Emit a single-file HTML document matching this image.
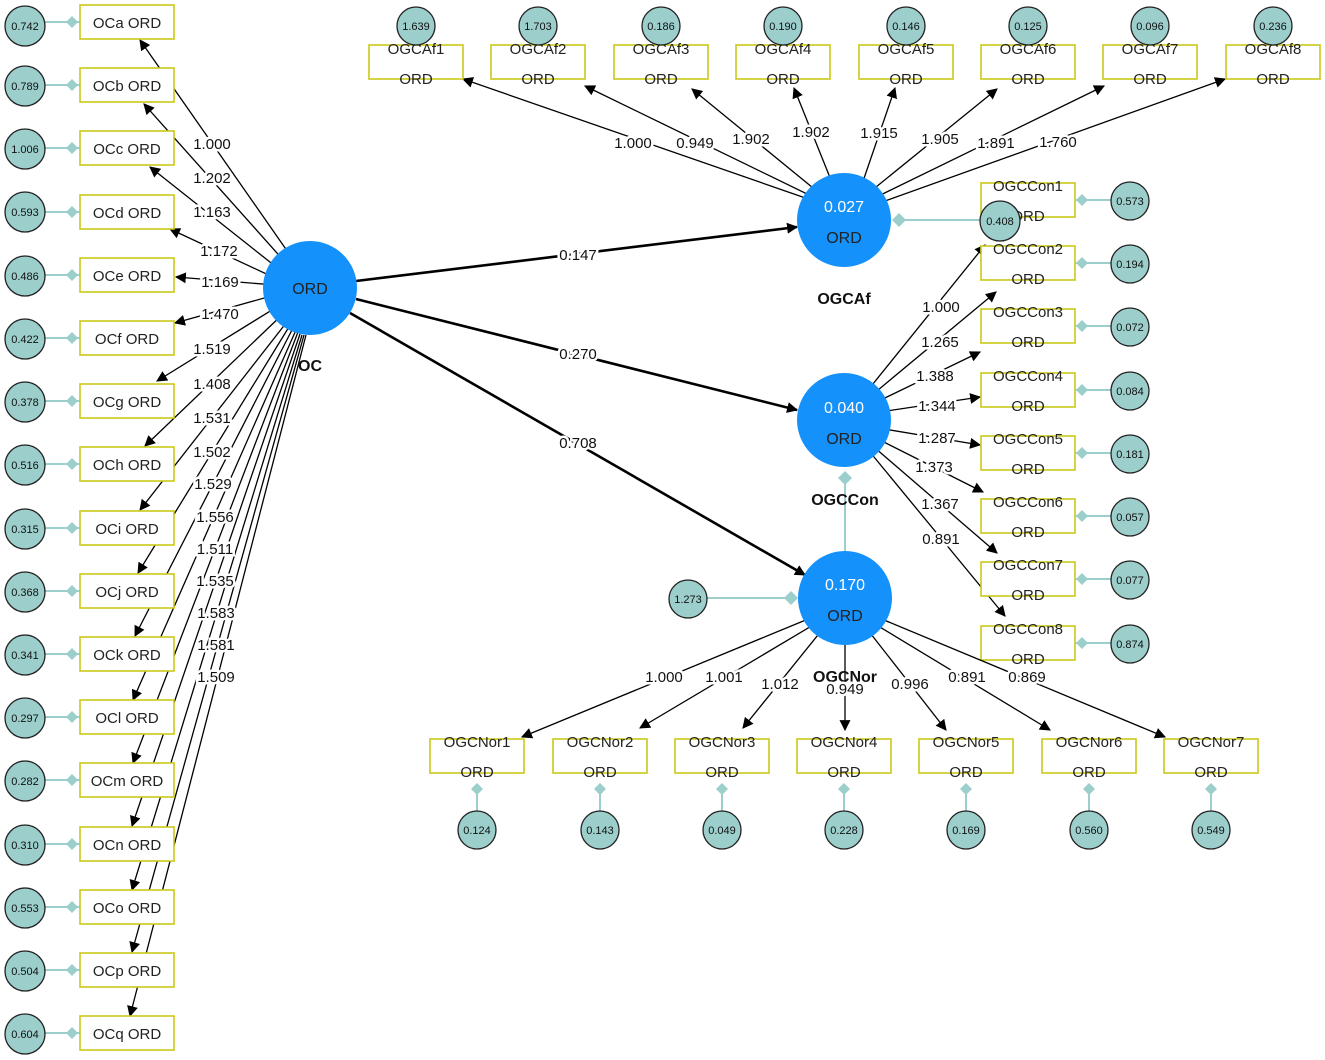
<!DOCTYPE html>
<html><head><meta charset="utf-8"><style>
html,body{margin:0;padding:0;background:#fff;}
svg{display:block;font-family:"Liberation Sans",sans-serif;}
.l{stroke:#000;stroke-width:1.3;fill:none;marker-end:url(#a);}
.t{stroke:#000;stroke-width:2.6;fill:none;marker-end:url(#a);}
.lb{font-size:15px;fill:#111;text-anchor:middle;stroke:#fff;stroke-width:5;paint-order:stroke;}
.bx{fill:#fff;stroke:#c9c918;stroke-width:1.6;}
.bt{font-size:15px;fill:#222;text-anchor:middle;}
.ec{fill:#9ccfcc;stroke:#222;stroke-width:1.3;}
.et{font-size:11px;fill:#111;text-anchor:middle;}
.tl{stroke:#9ccfcc;stroke-width:2;}
.dm{fill:#9ccfcc;}
.bc{fill:#1591fb;}
.ct{font-size:16px;text-anchor:middle;}
.nm{font-size:16px;font-weight:bold;text-anchor:middle;fill:#111;}
</style></head><body>
<svg width="1325" height="1060" viewBox="0 0 1325 1060" xmlns="http://www.w3.org/2000/svg">
<defs>
<marker id="a" viewBox="0 0 10 10" refX="9" refY="5" markerWidth="11" markerHeight="11" markerUnits="userSpaceOnUse" orient="auto"><path d="M0,0 L10,5 L0,10 z" fill="#000"/></marker>
<marker id="d" viewBox="0 0 10 10" refX="5" refY="5" markerWidth="10" markerHeight="10" markerUnits="userSpaceOnUse"><path d="M5,0 L10,5 L5,10 L0,5z" fill="#9ccfcc"/></marker>
</defs>

<!-- OC loadings -->
<g>
<line class="l" x1="290" y1="255" x2="140" y2="40"/>
<line class="l" x1="285" y1="262" x2="144" y2="104"/>
<line class="l" x1="280" y1="270" x2="150" y2="167"/>
<line class="l" x1="275" y1="278" x2="170" y2="229"/>
<line class="l" x1="275" y1="285" x2="176" y2="277"/>
<line class="l" x1="275" y1="295" x2="175" y2="323"/>
<line class="l" x1="280" y1="305" x2="157" y2="381"/>
<line class="l" x1="285" y1="312" x2="145" y2="446"/>
<line class="l" x1="290" y1="318" x2="140" y2="510"/>
<line class="l" x1="292" y1="322" x2="138" y2="573"/>
<line class="l" x1="294" y1="326" x2="135" y2="636"/>
<line class="l" x1="296" y1="330" x2="133" y2="700"/>
<line class="l" x1="298" y1="332" x2="133" y2="763"/>
<line class="l" x1="300" y1="334" x2="132" y2="826"/>
<line class="l" x1="302" y1="335" x2="132" y2="890"/>
<line class="l" x1="304" y1="335" x2="132" y2="952"/>
<line class="l" x1="306" y1="335" x2="130" y2="1016"/>
</g>
<g class="lb">
<text x="212" y="149">1.000</text><text x="212" y="183">1.202</text><text x="212" y="217">1.163</text>
<text x="219" y="256">1.172</text><text x="220" y="287">1.169</text><text x="220" y="319">1.470</text>
<text x="212" y="354">1.519</text><text x="212" y="389">1.408</text><text x="212" y="423">1.531</text>
<text x="212" y="457">1.502</text><text x="213" y="489">1.529</text><text x="215" y="522">1.556</text>
<text x="215" y="554">1.511</text><text x="215" y="586">1.535</text><text x="216" y="618">1.583</text>
<text x="216" y="650">1.581</text><text x="216" y="682">1.509</text>
</g>

<!-- Left indicators -->
<g>
<line class="tl" x1="45" y1="22" x2="80" y2="22"/><line class="tl" x1="45" y1="85" x2="80" y2="85"/>
<line class="tl" x1="45" y1="148" x2="80" y2="148"/><line class="tl" x1="45" y1="212" x2="80" y2="212"/>
<line class="tl" x1="45" y1="275" x2="80" y2="275"/><line class="tl" x1="45" y1="338" x2="80" y2="338"/>
<line class="tl" x1="45" y1="401" x2="80" y2="401"/><line class="tl" x1="45" y1="464" x2="80" y2="464"/>
<line class="tl" x1="45" y1="528" x2="80" y2="528"/><line class="tl" x1="45" y1="591" x2="80" y2="591"/>
<line class="tl" x1="45" y1="654" x2="80" y2="654"/><line class="tl" x1="45" y1="717" x2="80" y2="717"/>
<line class="tl" x1="45" y1="780" x2="80" y2="780"/><line class="tl" x1="45" y1="844" x2="80" y2="844"/>
<line class="tl" x1="45" y1="907" x2="80" y2="907"/><line class="tl" x1="45" y1="970" x2="80" y2="970"/>
<line class="tl" x1="45" y1="1033" x2="80" y2="1033"/>
</g>
<g class="dm">
<path d="M72,16 L78,22 L72,28 L66,22z"/><path d="M72,79 L78,85 L72,91 L66,85z"/><path d="M72,142 L78,148 L72,154 L66,148z"/>
<path d="M72,206 L78,212 L72,218 L66,212z"/><path d="M72,269 L78,275 L72,281 L66,275z"/><path d="M72,332 L78,338 L72,344 L66,338z"/>
<path d="M72,395 L78,401 L72,407 L66,401z"/><path d="M72,458 L78,464 L72,470 L66,464z"/><path d="M72,522 L78,528 L72,534 L66,528z"/>
<path d="M72,585 L78,591 L72,597 L66,591z"/><path d="M72,648 L78,654 L72,660 L66,654z"/><path d="M72,711 L78,717 L72,723 L66,717z"/>
<path d="M72,774 L78,780 L72,786 L66,780z"/><path d="M72,838 L78,844 L72,850 L66,844z"/><path d="M72,901 L78,907 L72,913 L66,907z"/>
<path d="M72,964 L78,970 L72,976 L66,970z"/><path d="M72,1027 L78,1033 L72,1039 L66,1033z"/>
</g>
<g>
<circle class="ec" cx="25" cy="26" r="20"/><circle class="ec" cx="25" cy="86" r="20"/><circle class="ec" cx="25" cy="149" r="20"/>
<circle class="ec" cx="25" cy="212" r="20"/><circle class="ec" cx="25" cy="276" r="20"/><circle class="ec" cx="25" cy="339" r="20"/>
<circle class="ec" cx="25" cy="402" r="20"/><circle class="ec" cx="25" cy="465" r="20"/><circle class="ec" cx="25" cy="529" r="20"/>
<circle class="ec" cx="25" cy="592" r="20"/><circle class="ec" cx="25" cy="655" r="20"/><circle class="ec" cx="25" cy="718" r="20"/>
<circle class="ec" cx="25" cy="781" r="20"/><circle class="ec" cx="25" cy="845" r="20"/><circle class="ec" cx="25" cy="908" r="20"/>
<circle class="ec" cx="25" cy="971" r="20"/><circle class="ec" cx="25" cy="1034" r="20"/>
</g>
<g class="et">
<text x="25" y="30">0.742</text><text x="25" y="90">0.789</text><text x="25" y="153">1.006</text>
<text x="25" y="216">0.593</text><text x="25" y="280">0.486</text><text x="25" y="343">0.422</text>
<text x="25" y="406">0.378</text><text x="25" y="469">0.516</text><text x="25" y="533">0.315</text>
<text x="25" y="596">0.368</text><text x="25" y="659">0.341</text><text x="25" y="722">0.297</text>
<text x="25" y="785">0.282</text><text x="25" y="849">0.310</text><text x="25" y="912">0.553</text>
<text x="25" y="975">0.504</text><text x="25" y="1038">0.604</text>
</g>
<g>
<rect class="bx" x="80" y="5" width="94" height="34"/><rect class="bx" x="80" y="68" width="94" height="34"/>
<rect class="bx" x="80" y="131" width="94" height="34"/><rect class="bx" x="80" y="195" width="94" height="34"/>
<rect class="bx" x="80" y="258" width="94" height="34"/><rect class="bx" x="80" y="321" width="94" height="34"/>
<rect class="bx" x="80" y="384" width="94" height="34"/><rect class="bx" x="80" y="447" width="94" height="34"/>
<rect class="bx" x="80" y="511" width="94" height="34"/><rect class="bx" x="80" y="574" width="94" height="34"/>
<rect class="bx" x="80" y="637" width="94" height="34"/><rect class="bx" x="80" y="700" width="94" height="34"/>
<rect class="bx" x="80" y="763" width="94" height="34"/><rect class="bx" x="80" y="827" width="94" height="34"/>
<rect class="bx" x="80" y="890" width="94" height="34"/><rect class="bx" x="80" y="953" width="94" height="34"/>
<rect class="bx" x="80" y="1016" width="94" height="34"/>
</g>
<g class="bt">
<text x="127" y="28">OCa  ORD</text><text x="127" y="91">OCb  ORD</text><text x="127" y="154">OCc  ORD</text>
<text x="127" y="218">OCd  ORD</text><text x="127" y="281">OCe  ORD</text><text x="127" y="344">OCf  ORD</text>
<text x="127" y="407">OCg  ORD</text><text x="127" y="470">OCh  ORD</text><text x="127" y="534">OCi  ORD</text>
<text x="127" y="597">OCj  ORD</text><text x="127" y="660">OCk  ORD</text><text x="127" y="723">OCl  ORD</text>
<text x="127" y="786">OCm  ORD</text><text x="127" y="850">OCn  ORD</text><text x="127" y="913">OCo  ORD</text>
<text x="127" y="976">OCp  ORD</text><text x="127" y="1039">OCq  ORD</text>
</g>

<!-- structural paths -->
<line class="t" x1="356" y1="281" x2="797" y2="227"/>
<line class="t" x1="356" y1="299" x2="797" y2="410"/>
<line class="t" x1="350" y1="313" x2="805" y2="575"/>
<g class="lb"><text x="578" y="260">0.147</text><text x="578" y="359">0.270</text><text x="578" y="448">0.708</text></g>

<!-- OGCAf loadings -->
<g>
<line class="l" x1="840" y1="210" x2="463" y2="79"/>
<line class="l" x1="840" y1="210" x2="585" y2="86"/>
<line class="l" x1="840" y1="210" x2="692" y2="89"/>
<line class="l" x1="835" y1="190" x2="794" y2="88"/>
<line class="l" x1="860" y1="190" x2="895" y2="88"/>
<line class="l" x1="860" y1="200" x2="997" y2="89"/>
<line class="l" x1="860" y1="205" x2="1104" y2="86"/>
<line class="l" x1="860" y1="210" x2="1225" y2="79"/>
</g>
<g class="lb">
<text x="633" y="148">1.000</text><text x="695" y="148">0.949</text><text x="751" y="144">1.902</text>
<text x="811" y="137">1.902</text><text x="879" y="138">1.915</text><text x="940" y="144">1.905</text>
<text x="996" y="148">1.891</text><text x="1058" y="147">1.760</text>
</g>
<g>
<rect class="bx" x="369" y="45" width="94" height="34"/><rect class="bx" x="491" y="45" width="94" height="34"/>
<rect class="bx" x="614" y="45" width="94" height="34"/><rect class="bx" x="736" y="45" width="94" height="34"/>
<rect class="bx" x="859" y="45" width="94" height="34"/><rect class="bx" x="981" y="45" width="94" height="34"/>
<rect class="bx" x="1103" y="45" width="94" height="34"/><rect class="bx" x="1226" y="45" width="94" height="34"/>
</g>
<g class="bt">
<text x="416" y="54">OGCAf1</text><text x="416" y="84">ORD</text>
<text x="538" y="54">OGCAf2</text><text x="538" y="84">ORD</text>
<text x="661" y="54">OGCAf3</text><text x="661" y="84">ORD</text>
<text x="783" y="54">OGCAf4</text><text x="783" y="84">ORD</text>
<text x="906" y="54">OGCAf5</text><text x="906" y="84">ORD</text>
<text x="1028" y="54">OGCAf6</text><text x="1028" y="84">ORD</text>
<text x="1150" y="54">OGCAf7</text><text x="1150" y="84">ORD</text>
<text x="1273" y="54">OGCAf8</text><text x="1273" y="84">ORD</text>
</g>
<g>
<circle class="ec" cx="416" cy="26" r="19"/><circle class="ec" cx="538" cy="26" r="19"/><circle class="ec" cx="661" cy="26" r="19"/>
<circle class="ec" cx="783" cy="26" r="19"/><circle class="ec" cx="906" cy="26" r="19"/><circle class="ec" cx="1028" cy="26" r="19"/>
<circle class="ec" cx="1150" cy="26" r="19"/><circle class="ec" cx="1273" cy="26" r="19"/>
</g>
<g class="et">
<text x="416" y="30">1.639</text><text x="538" y="30">1.703</text><text x="661" y="30">0.186</text><text x="783" y="30">0.190</text>
<text x="906" y="30">0.146</text><text x="1028" y="30">0.125</text><text x="1150" y="30">0.096</text><text x="1273" y="30">0.236</text>
</g>

<!-- OGCCon loadings -->
<g>
<line class="l" x1="860" y1="400" x2="985" y2="245"/>
<line class="l" x1="860" y1="405" x2="996" y2="292"/>
<line class="l" x1="860" y1="410" x2="980" y2="352"/>
<line class="l" x1="860" y1="415" x2="980" y2="397"/>
<line class="l" x1="860" y1="425" x2="980" y2="445"/>
<line class="l" x1="860" y1="430" x2="983" y2="492"/>
<line class="l" x1="860" y1="435" x2="997" y2="553"/>
<line class="l" x1="860" y1="440" x2="1005" y2="616"/>
</g>
<g class="lb">
<text x="941" y="312">1.000</text><text x="940" y="347">1.265</text><text x="935" y="381">1.388</text>
<text x="937" y="411">1.344</text><text x="937" y="443">1.287</text><text x="934" y="472">1.373</text>
<text x="940" y="509">1.367</text><text x="941" y="544">0.891</text>
</g>
<g>
<rect class="bx" x="981" y="183" width="94" height="34"/><rect class="bx" x="981" y="246" width="94" height="34"/>
<rect class="bx" x="981" y="309" width="94" height="34"/><rect class="bx" x="981" y="373" width="94" height="34"/>
<rect class="bx" x="981" y="436" width="94" height="34"/><rect class="bx" x="981" y="499" width="94" height="34"/>
<rect class="bx" x="981" y="562" width="94" height="34"/><rect class="bx" x="981" y="626" width="94" height="34"/>
</g>
<g class="bt">
<text x="1028" y="191">OGCCon1</text><text x="1028" y="221">ORD</text>
<text x="1028" y="254">OGCCon2</text><text x="1028" y="284">ORD</text>
<text x="1028" y="317">OGCCon3</text><text x="1028" y="347">ORD</text>
<text x="1028" y="381">OGCCon4</text><text x="1028" y="411">ORD</text>
<text x="1028" y="444">OGCCon5</text><text x="1028" y="474">ORD</text>
<text x="1028" y="507">OGCCon6</text><text x="1028" y="537">ORD</text>
<text x="1028" y="570">OGCCon7</text><text x="1028" y="600">ORD</text>
<text x="1028" y="634">OGCCon8</text><text x="1028" y="664">ORD</text>
</g>
<g>
<line class="tl" x1="1075" y1="200" x2="1111" y2="200"/><line class="tl" x1="1075" y1="263" x2="1111" y2="263"/>
<line class="tl" x1="1075" y1="326" x2="1111" y2="326"/><line class="tl" x1="1075" y1="390" x2="1111" y2="390"/>
<line class="tl" x1="1075" y1="453" x2="1111" y2="453"/><line class="tl" x1="1075" y1="516" x2="1111" y2="516"/>
<line class="tl" x1="1075" y1="579" x2="1111" y2="579"/><line class="tl" x1="1075" y1="643" x2="1111" y2="643"/>
</g>
<g class="dm">
<path d="M1082,194 L1088,200 L1082,206 L1076,200z"/><path d="M1082,257 L1088,263 L1082,269 L1076,263z"/>
<path d="M1082,320 L1088,326 L1082,332 L1076,326z"/><path d="M1082,384 L1088,390 L1082,396 L1076,390z"/>
<path d="M1082,447 L1088,453 L1082,459 L1076,453z"/><path d="M1082,510 L1088,516 L1082,522 L1076,516z"/>
<path d="M1082,573 L1088,579 L1082,585 L1076,579z"/><path d="M1082,637 L1088,643 L1082,649 L1076,643z"/>
</g>
<g>
<circle class="ec" cx="1130" cy="201" r="19"/><circle class="ec" cx="1130" cy="264" r="19"/><circle class="ec" cx="1130" cy="327" r="19"/>
<circle class="ec" cx="1130" cy="391" r="19"/><circle class="ec" cx="1130" cy="454" r="19"/><circle class="ec" cx="1130" cy="517" r="19"/>
<circle class="ec" cx="1130" cy="580" r="19"/><circle class="ec" cx="1130" cy="644" r="19"/>
</g>
<g class="et">
<text x="1130" y="205">0.573</text><text x="1130" y="268">0.194</text><text x="1130" y="331">0.072</text><text x="1130" y="395">0.084</text>
<text x="1130" y="458">0.181</text><text x="1130" y="521">0.057</text><text x="1130" y="584">0.077</text><text x="1130" y="648">0.874</text>
</g>

<!-- OGCNor loadings -->
<g>
<line class="l" x1="830" y1="610" x2="522" y2="737"/>
<line class="l" x1="830" y1="615" x2="640" y2="728"/>
<line class="l" x1="830" y1="620" x2="743" y2="728"/>
<line class="l" x1="845" y1="620" x2="845" y2="730"/>
<line class="l" x1="860" y1="620" x2="946" y2="730"/>
<line class="l" x1="860" y1="615" x2="1050" y2="730"/>
<line class="l" x1="860" y1="610" x2="1165" y2="737"/>
</g>
<text class="nm" x="845" y="682">OGCNor</text>
<g class="lb">
<text x="664" y="682">1.000</text><text x="724" y="682">1.001</text><text x="780" y="689">1.012</text>
<text x="845" y="694">0.949</text><text x="910" y="689">0.996</text><text x="967" y="682">0.891</text><text x="1027" y="682">0.869</text>
</g>
<g>
<rect class="bx" x="430" y="739" width="94" height="34"/><rect class="bx" x="553" y="739" width="94" height="34"/>
<rect class="bx" x="675" y="739" width="94" height="34"/><rect class="bx" x="797" y="739" width="94" height="34"/>
<rect class="bx" x="919" y="739" width="94" height="34"/><rect class="bx" x="1042" y="739" width="94" height="34"/>
<rect class="bx" x="1164" y="739" width="94" height="34"/>
</g>
<g class="bt">
<text x="477" y="747">OGCNor1</text><text x="477" y="777">ORD</text>
<text x="600" y="747">OGCNor2</text><text x="600" y="777">ORD</text>
<text x="722" y="747">OGCNor3</text><text x="722" y="777">ORD</text>
<text x="844" y="747">OGCNor4</text><text x="844" y="777">ORD</text>
<text x="966" y="747">OGCNor5</text><text x="966" y="777">ORD</text>
<text x="1089" y="747">OGCNor6</text><text x="1089" y="777">ORD</text>
<text x="1211" y="747">OGCNor7</text><text x="1211" y="777">ORD</text>
</g>
<g>
<line class="tl" x1="477" y1="789" x2="477" y2="812"/><line class="tl" x1="600" y1="789" x2="600" y2="812"/>
<line class="tl" x1="722" y1="789" x2="722" y2="812"/><line class="tl" x1="844" y1="789" x2="844" y2="812"/>
<line class="tl" x1="966" y1="789" x2="966" y2="812"/><line class="tl" x1="1089" y1="789" x2="1089" y2="812"/>
<line class="tl" x1="1211" y1="789" x2="1211" y2="812"/>
</g>
<g class="dm">
<path d="M477,783 L483,789 L477,795 L471,789z"/><path d="M600,783 L606,789 L600,795 L594,789z"/>
<path d="M722,783 L728,789 L722,795 L716,789z"/><path d="M844,783 L850,789 L844,795 L838,789z"/>
<path d="M966,783 L972,789 L966,795 L960,789z"/><path d="M1089,783 L1095,789 L1089,795 L1083,789z"/>
<path d="M1211,783 L1217,789 L1211,795 L1205,789z"/>
</g>
<g>
<circle class="ec" cx="477" cy="830" r="19"/><circle class="ec" cx="600" cy="830" r="19"/><circle class="ec" cx="722" cy="830" r="19"/>
<circle class="ec" cx="844" cy="830" r="19"/><circle class="ec" cx="966" cy="830" r="19"/><circle class="ec" cx="1089" cy="830" r="19"/>
<circle class="ec" cx="1211" cy="830" r="19"/>
</g>
<g class="et">
<text x="477" y="834">0.124</text><text x="600" y="834">0.143</text><text x="722" y="834">0.049</text><text x="844" y="834">0.228</text>
<text x="966" y="834">0.169</text><text x="1089" y="834">0.560</text><text x="1211" y="834">0.549</text>
</g>

<!-- error terms of latent vars -->
<line class="tl" x1="899" y1="220" x2="985" y2="220"/>
<path class="dm" d="M899,213 L906,220 L899,227 L892,220z"/>
<circle class="ec" cx="1000" cy="221" r="20"/><text class="et" x="1000" y="225">0.408</text>
<line class="tl" x1="845" y1="478" x2="845" y2="552"/>
<path class="dm" d="M845,471 L852,478 L845,485 L838,478z"/>
<line class="tl" x1="707" y1="598" x2="792" y2="598"/>
<path class="dm" d="M791,591 L798,598 L791,605 L784,598z"/>
<circle class="ec" cx="688" cy="599" r="19"/><text class="et" x="688" y="603">1.273</text>

<!-- latent circles -->
<circle class="bc" cx="310" cy="288" r="47"/>
<text class="ct" x="310" y="294" fill="#222">ORD</text>
<text class="nm" x="310" y="371">OC</text>

<circle class="bc" cx="844" cy="220" r="47"/>
<text class="ct" x="844" y="212" fill="#fff">0.027</text>
<text class="ct" x="844" y="243" fill="#222">ORD</text>
<text class="nm" x="844" y="304">OGCAf</text>

<circle class="bc" cx="844" cy="420" r="47"/>
<text class="ct" x="844" y="413" fill="#fff">0.040</text>
<text class="ct" x="844" y="444" fill="#222">ORD</text>
<text class="nm" x="845" y="505">OGCCon</text>

<circle class="bc" cx="845" cy="598" r="47"/>
<text class="ct" x="845" y="590" fill="#fff">0.170</text>
<text class="ct" x="845" y="621" fill="#222">ORD</text>
</svg>
</body></html>
